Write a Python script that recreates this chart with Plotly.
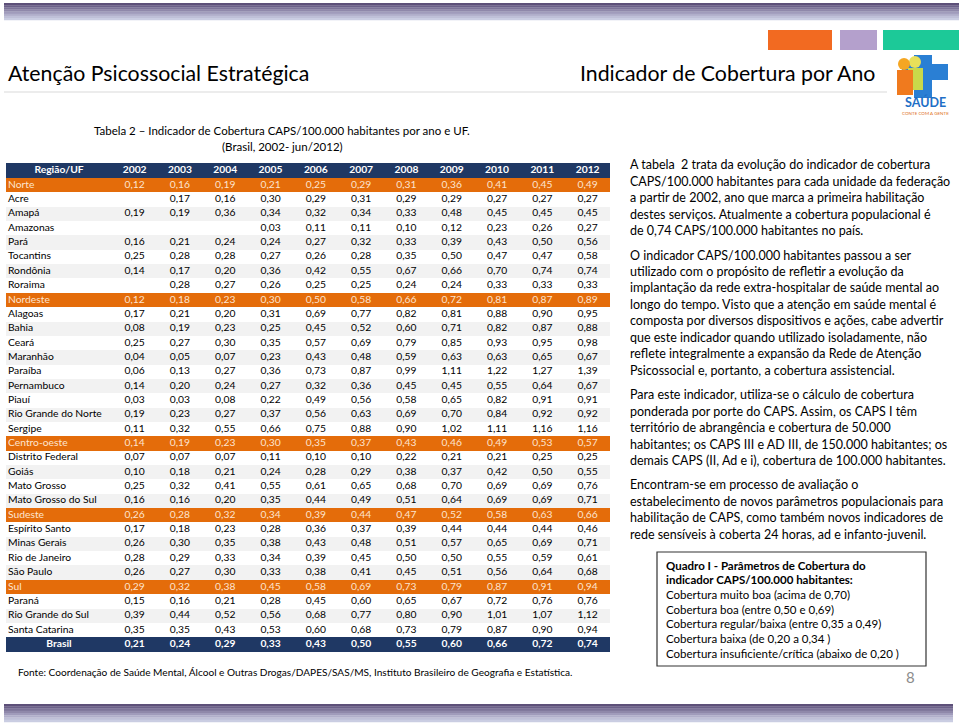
import plotly.graph_objects as go

W, H = 959, 723

anos = ["2002", "2003", "2004", "2005", "2006", "2007", "2008", "2009", "2010", "2011", "2012"]

ufs = ["Norte", "Acre", "Amapá", "Amazonas", "Pará", "Tocantins", "Rondônia", "Roraima",
       "Nordeste", "Alagoas", "Bahia", "Ceará", "Maranhão", "Paraíba", "Pernambuco", "Piauí",
       "Rio Grande do Norte", "Sergipe",
       "Centro-oeste", "Distrito Federal", "Goiás", "Mato Grosso", "Mato Grosso do Sul",
       "Sudeste", "Espírito Santo", "Minas Gerais", "Rio de Janeiro", "São Paulo",
       "Sul", "Paraná", "Rio Grande do Sul", "Santa Catarina",
       "Brasil"]

regioes = ["Norte", "Nordeste", "Centro-oeste", "Sudeste", "Sul"]

# coverage CAPS/100.000 hab., one list per year, same order as ufs
cob_2002 = [0.12, None, 0.19, None, 0.16, 0.25, 0.14, None,
            0.12, 0.17, 0.08, 0.25, 0.04, 0.06, 0.14, 0.03, 0.19, 0.11,
            0.14, 0.07, 0.10, 0.25, 0.16,
            0.26, 0.17, 0.26, 0.28, 0.26,
            0.29, 0.15, 0.39, 0.35, 0.21]
cob_2003 = [0.16, 0.17, 0.19, None, 0.21, 0.28, 0.17, 0.28,
            0.18, 0.21, 0.19, 0.27, 0.05, 0.13, 0.20, 0.03, 0.23, 0.32,
            0.19, 0.07, 0.18, 0.32, 0.16,
            0.28, 0.18, 0.30, 0.29, 0.27,
            0.32, 0.16, 0.44, 0.35, 0.24]
cob_2004 = [0.19, 0.16, 0.36, None, 0.24, 0.28, 0.20, 0.27,
            0.23, 0.20, 0.23, 0.30, 0.07, 0.27, 0.24, 0.08, 0.27, 0.55,
            0.23, 0.07, 0.21, 0.41, 0.20,
            0.32, 0.23, 0.35, 0.33, 0.30,
            0.38, 0.21, 0.52, 0.43, 0.29]
cob_2005 = [0.21, 0.30, 0.34, 0.03, 0.24, 0.27, 0.36, 0.26,
            0.30, 0.31, 0.25, 0.35, 0.23, 0.36, 0.27, 0.22, 0.37, 0.66,
            0.30, 0.11, 0.24, 0.55, 0.35,
            0.34, 0.28, 0.38, 0.34, 0.33,
            0.45, 0.28, 0.56, 0.53, 0.33]
cob_2006 = [0.25, 0.29, 0.32, 0.11, 0.27, 0.26, 0.42, 0.25,
            0.50, 0.69, 0.45, 0.57, 0.43, 0.73, 0.32, 0.49, 0.56, 0.75,
            0.35, 0.10, 0.28, 0.61, 0.44,
            0.39, 0.36, 0.43, 0.39, 0.38,
            0.58, 0.45, 0.68, 0.60, 0.43]
cob_2007 = [0.29, 0.31, 0.34, 0.11, 0.32, 0.28, 0.55, 0.25,
            0.58, 0.77, 0.52, 0.69, 0.48, 0.87, 0.36, 0.56, 0.63, 0.88,
            0.37, 0.10, 0.29, 0.65, 0.49,
            0.44, 0.37, 0.48, 0.45, 0.41,
            0.69, 0.60, 0.77, 0.68, 0.50]
cob_2008 = [0.31, 0.29, 0.33, 0.10, 0.33, 0.35, 0.67, 0.24,
            0.66, 0.82, 0.60, 0.79, 0.59, 0.99, 0.45, 0.58, 0.69, 0.90,
            0.43, 0.22, 0.38, 0.68, 0.51,
            0.47, 0.39, 0.51, 0.50, 0.45,
            0.73, 0.65, 0.80, 0.73, 0.55]
cob_2009 = [0.36, 0.29, 0.48, 0.12, 0.39, 0.50, 0.66, 0.24,
            0.72, 0.81, 0.71, 0.85, 0.63, 1.11, 0.45, 0.65, 0.70, 1.02,
            0.46, 0.21, 0.37, 0.70, 0.64,
            0.52, 0.44, 0.57, 0.50, 0.51,
            0.79, 0.67, 0.90, 0.79, 0.60]
cob_2010 = [0.41, 0.27, 0.45, 0.23, 0.43, 0.47, 0.70, 0.33,
            0.81, 0.88, 0.82, 0.93, 0.63, 1.22, 0.55, 0.82, 0.84, 1.11,
            0.49, 0.21, 0.42, 0.69, 0.69,
            0.58, 0.44, 0.65, 0.55, 0.56,
            0.87, 0.72, 1.01, 0.87, 0.66]
cob_2011 = [0.45, 0.27, 0.45, 0.26, 0.50, 0.47, 0.74, 0.33,
            0.87, 0.90, 0.87, 0.95, 0.65, 1.27, 0.64, 0.91, 0.92, 1.16,
            0.53, 0.25, 0.50, 0.69, 0.69,
            0.63, 0.44, 0.69, 0.59, 0.64,
            0.91, 0.76, 1.07, 0.90, 0.72]
cob_2012 = [0.49, 0.27, 0.45, 0.27, 0.56, 0.58, 0.74, 0.33,
            0.89, 0.95, 0.88, 0.98, 0.67, 1.39, 0.67, 0.91, 0.92, 1.16,
            0.57, 0.25, 0.55, 0.76, 0.71,
            0.66, 0.46, 0.71, 0.61, 0.68,
            0.94, 0.76, 1.12, 0.94, 0.74]

anos_vals = [cob_2002, cob_2003, cob_2004, cob_2005, cob_2006, cob_2007,
             cob_2008, cob_2009, cob_2010, cob_2011, cob_2012]

texto_direita = [
    ["A tabela  2 trata da evolução do indicador de cobertura",
     "CAPS/100.000 habitantes para cada unidade da federação",
     "a partir de 2002, ano que marca a primeira habilitação",
     "destes serviços. Atualmente a cobertura populacional é",
     "de 0,74 CAPS/100.000 habitantes no país."],
    ["O indicador CAPS/100.000 habitantes passou a ser",
     "utilizado com o propósito de refletir a evolução da",
     "implantação da rede extra-hospitalar de saúde mental ao",
     "longo do tempo. Visto que a atenção em saúde mental é",
     "composta por diversos dispositivos e ações, cabe advertir",
     "que este indicador quando utilizado isoladamente, não",
     "reflete integralmente a expansão da Rede de Atenção",
     "Psicossocial e, portanto, a cobertura assistencial."],
    ["Para este indicador, utiliza-se o cálculo de cobertura",
     "ponderada por porte do CAPS. Assim, os CAPS I têm",
     "território de abrangência e cobertura de 50.000",
     "habitantes; os CAPS III e AD III, de 150.000 habitantes; os",
     "demais CAPS (II, Ad e i), cobertura de 100.000 habitantes."],
    ["Encontram-se em processo de avaliação o",
     "estabelecimento de novos parâmetros populacionais para",
     "habilitação de CAPS, como também novos indicadores de",
     "rede sensíveis à coberta 24 horas, ad e infanto-juvenil."],
]

quadro = ["<b>Quadro I - Parâmetros de Cobertura do</b>",
          "<b>indicador CAPS/100.000 habitantes:</b>",
          "Cobertura muito boa (acima de 0,70)",
          "Cobertura boa (entre 0,50 e 0,69)",
          "Cobertura regular/baixa (entre 0,35 a 0,49)",
          "Cobertura baixa (de 0,20 a 0,34 )",
          "Cobertura insuficiente/crítica (abaixo de 0,20 )"]

ORANGE = "#e46c0a"
NAVY = "#1f3864"
GRAY = "#f2f2f2"
FONT = "Lato"
TFONT = 10.3

# table geometry (pixels, axes map 1:1 onto the page)
T_LEFT, T_FIRST, COLW = 6, 112, 45.3
T_TOP, HEAD_H, ROW_H = 163, 15, 14.35


def fmt(v):
    return "" if v is None else f"{v:.2f}".replace(".", ",")


x_edges = [T_LEFT, T_FIRST] + [T_FIRST + COLW * (j + 1) for j in range(len(anos))]
y_edges = [T_TOP, T_TOP + HEAD_H] + [T_TOP + HEAD_H + ROW_H * (i + 1) for i in range(len(ufs))]
x_cent = [(a + b) / 2 for a, b in zip(x_edges[:-1], x_edges[1:])]
y_cent = [(a + b) / 2 for a, b in zip(y_edges[:-1], y_edges[1:])]

# fill class per row: 0 white, 1 gray stripe, 2 region orange, 3 navy; stripes restart per region
kind, tcolor = [3], ["white"]
k = 0
for uf in ufs:
    if uf in regioes:
        kind.append(2); tcolor.append("#fde4d0"); k = 0
    elif uf == "Brasil":
        kind.append(3); tcolor.append("white")
    else:
        kind.append(k % 2); tcolor.append("black"); k += 1

z = [[c] * (len(anos) + 1) for c in kind]

fig = go.Figure()
fig.add_trace(go.Heatmap(
    x=x_edges, y=y_edges, z=z, zmin=0, zmax=3, showscale=False, hoverinfo="skip",
    colorscale=[[0, "white"], [1 / 3, GRAY], [2 / 3, ORANGE], [1, NAVY]],
))

# first column: header + UF names
lab = ["<b>Região/UF</b>"] + ["<b>Brasil</b>" if u == "Brasil" else u for u in ufs]
lab_x = [x_cent[0]] + [x_cent[0] if u == "Brasil" else T_LEFT + 2 for u in ufs]
lab_pos = ["middle center"] + ["middle center" if u == "Brasil" else "middle right" for u in ufs]
fig.add_trace(go.Scatter(x=lab_x, y=y_cent, mode="text", text=lab, textposition=lab_pos,
                         textfont=dict(family=FONT, size=TFONT, color=tcolor), hoverinfo="skip"))

for j, (ano, vals) in enumerate(zip(anos, anos_vals)):
    txts = ["<b>%s</b>" % ano] + [("<b>%s</b>" % fmt(v)) if u == "Brasil" else fmt(v)
                                  for u, v in zip(ufs, vals)]
    fig.add_trace(go.Scatter(x=[x_cent[j + 1]] * len(txts), y=y_cent, mode="text", text=txts,
                             textposition="middle center", hoverinfo="skip",
                             textfont=dict(family=FONT, size=TFONT, color=tcolor)))

shapes = []
# gradient bars top and bottom
grad = ["#5d5079", "#6c6189", "#7d7499", "#8f88aa", "#a09bbb", "#b0aeca", "#bfc0d8", "#cacde2"]
for y0, y1, x1 in [(3, 20, W), (704, 722, 953)]:
    h = (y1 - y0) / len(grad)
    for i, c in enumerate(grad):
        shapes.append(dict(type="rect", xref="x", yref="y", x0=4, x1=x1, layer="below",
                           y0=y0 + i * h, y1=y0 + (i + 1) * h + 0.3, fillcolor=c, line_width=0))
# colored squares
for x0, x1, c in [(768, 832, "#f26a21"), (840, 877, "#b4a0cc"), (883, 959, "#1cc998")]:
    shapes.append(dict(type="rect", xref="x", yref="y", x0=x0, x1=x1, y0=30, y1=50,
                       fillcolor=c, line_width=0))
# separator line
shapes.append(dict(type="line", xref="x", yref="y", x0=4, x1=887, y0=92, y1=92,
                   line=dict(color="#d9d9d9", width=1)))
# logo: blue cross behind two figures
shapes.append(dict(type="rect", xref="x", yref="y", x0=914, x1=932, y0=55, y1=98,
                   fillcolor="#2a7fd4", line_width=0))
shapes.append(dict(type="rect", xref="x", yref="y", x0=902, x1=948, y0=64, y1=80,
                   fillcolor="#2a7fd4", line_width=0))
shapes.append(dict(type="circle", xref="x", yref="y", x0=909, x1=921, y0=56, y1=68,
                   fillcolor="#e8e05a", line_width=0))
shapes.append(dict(type="rect", xref="x", yref="y", x0=908, x1=923, y0=68, y1=90,
                   fillcolor="#c9d84a", line_width=0))
shapes.append(dict(type="circle", xref="x", yref="y", x0=898, x1=910, y0=58, y1=70,
                   fillcolor="#f5a623", line_width=0))
shapes.append(dict(type="rect", xref="x", yref="y", x0=897, x1=913, y0=70, y1=95,
                   fillcolor="#f07a1e", line_width=0))
# quadro box
shapes.append(dict(type="rect", xref="x", yref="y", x0=657, x1=926, y0=552, y1=666,
                   line=dict(color="#333333", width=1.2)))

ann = []


def txt(x, y, s, size, color="black", anchor="left"):
    ann.append(dict(x=x, y=y, xref="x", yref="y", text=s, showarrow=False,
                    xanchor=anchor, yanchor="middle", font=dict(family=FONT, size=size, color=color)))


txt(6, 73, "Atenção Psicossocial Estratégica", 21.3)
txt(877, 73, "Indicador de Cobertura por Ano", 21.3, anchor="right")
txt(925, 102, "<b>SAÚDE</b>", 12.5, color="#1f6fc6", anchor="center")
txt(925, 113, "CONTE COM A GENTE", 4.5, color="#e07020", anchor="center")
txt(282, 130, "Tabela 2 – Indicador de Cobertura CAPS/100.000 habitantes por ano e UF.", 11.5, anchor="center")
txt(282, 146, "(Brasil, 2002- jun/2012)", 11.5, anchor="center")
txt(16, 672, "Fonte: Coordenação de Saúde Mental, Álcool e Outras Drogas/DAPES/SAS/MS, "
             "Instituto Brasileiro de Geografia e Estatística.", 10.1)

y = 164.8
for par in texto_direita:
    for line in par:
        txt(628, y, line, 12.5)
        y += 16.45
    y += 8.0

for i, line in enumerate(quadro):
    txt(664, 565 + i * 14.7, line, 11.5)
txt(917, 677, "8", 15, color="#8c8c8c", anchor="right")

fig.update_layout(width=W, height=H, margin=dict(l=0, r=0, t=0, b=0),
                  paper_bgcolor="white", plot_bgcolor="white",
                  shapes=shapes, annotations=ann, showlegend=False,
                  xaxis=dict(range=[0, W], visible=False, fixedrange=True),
                  yaxis=dict(range=[H, 0], visible=False, fixedrange=True))
fig.write_html("out.html", config={"displayModeBar": False},
               post_script="document.body.style.margin='0';")
